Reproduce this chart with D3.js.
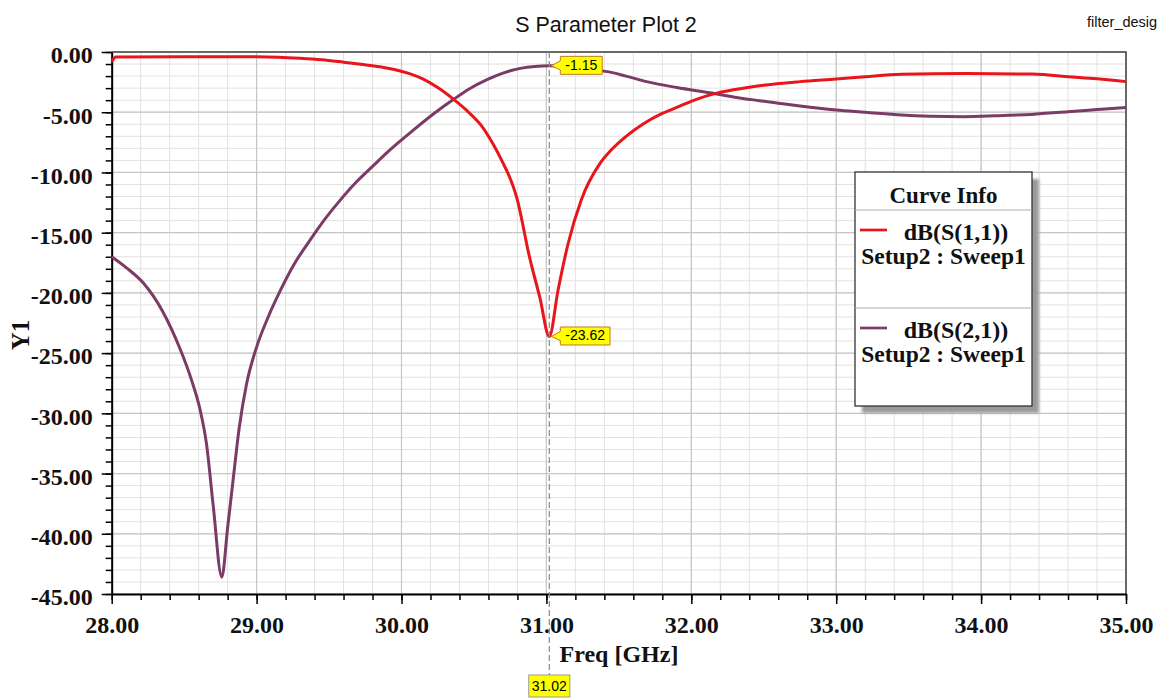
<!DOCTYPE html>
<html>
<head>
<meta charset="utf-8">
<script src="https://cdn.jsdelivr.net/npm/d3@7"></script>
<style>
  body { margin: 0; background: #fff; }
  svg { display: block; }
  .serif { font-family: "Liberation Serif", "Times New Roman", serif; font-weight: bold; }
  .sans { font-family: "Liberation Sans", Arial, sans-serif; }
</style>
</head>
<body>
<svg id="chart" width="1159" height="698"></svg>
<script>
// curve data (freq in GHz, value in dB)
const s11Freq = [28.00, 28.03, 28.50, 29.00, 29.15, 29.30, 29.45, 29.60, 29.72, 29.85, 29.95, 30.05, 30.15,
  30.25, 30.36, 30.45, 30.55, 30.63, 30.70, 30.75, 30.80, 30.835, 30.87, 30.955, 31.02, 31.08, 31.15, 31.24,
  31.37, 31.45, 31.55, 31.67, 31.80, 31.92, 32.03, 32.15, 32.30, 32.47, 32.75, 33.00, 33.20, 33.45, 33.90,
  34.35, 34.65, 34.82, 35.00];
const s11Db = [-0.80, -0.42, -0.40, -0.40, -0.43, -0.52, -0.65, -0.85, -1.02, -1.22, -1.45, -1.78, -2.25,
  -2.95, -3.93, -4.85, -6.10, -7.60, -9.20, -10.5, -12.3, -14.2, -16.3, -20.4, -23.62, -19.8, -15.9, -12.3,
  -9.25, -8.10, -7.00, -5.95, -5.10, -4.50, -3.95, -3.50, -3.12, -2.80, -2.46, -2.24, -2.05, -1.85, -1.78,
  -1.83, -2.10, -2.24, -2.46];

const s21Freq = [28.00, 28.10, 28.22, 28.35, 28.47, 28.55, 28.61, 28.655, 28.70, 28.76, 28.80, 28.84, 28.88,
  28.93, 29.00, 29.08, 29.16, 29.26, 29.37, 29.47, 29.57, 29.68, 29.80, 29.90, 29.99, 30.08, 30.22, 30.36,
  30.47, 30.59, 30.70, 30.82, 30.92, 31.02, 31.12, 31.20, 31.30, 31.42, 31.55, 31.69, 31.90, 32.15, 32.30,
  32.47, 32.60, 32.75, 33.00, 33.20, 33.45, 33.65, 33.88, 34.10, 34.35, 34.60, 34.80, 35.00];
const s21Db = [-17.0, -17.9, -19.2, -21.5, -24.6, -27.2, -29.7, -32.6, -37.6, -43.6, -39.5, -35.3, -31.2,
  -27.6, -24.5, -22.0, -19.9, -17.6, -15.6, -13.9, -12.4, -10.9, -9.5, -8.35, -7.4, -6.5, -5.15, -3.93,
  -3.05, -2.30, -1.75, -1.36, -1.20, -1.15, -1.20, -1.30, -1.45, -1.63, -2.00, -2.46, -2.95, -3.43, -3.75,
  -4.04, -4.25, -4.49, -4.82, -5.00, -5.23, -5.33, -5.37, -5.30, -5.18, -4.96, -4.78, -4.60];

const freqTicks = [28, 29, 30, 31, 32, 33, 34, 35];
const dbTicks = [0, -5, -10, -15, -20, -25, -30, -35, -40, -45];

const seriesNames = ['dB(S(1,1))', 'dB(S(2,1))'];
const seriesColors = ['#e8151b', '#7b3b66'];
const setupName = 'Setup2 : Sweep1';

const markerFreq = 31.02;
const markerS11 = -23.62;
const markerS21 = -1.15;

// frame
const MARGINS = {left: 111.7, right: 1126, top: 52, bottom: 594};

const svg = d3.select('#chart');

const x = d3.scaleLinear().domain([28, 35]).range([MARGINS.left, MARGINS.right]);
const y = d3.scaleLinear().domain([-45, 0]).range([MARGINS.bottom, MARGINS.top]);

const minorFreq = d3.range(28, 35.001, 0.2);
const minorDb = d3.range(-45, 0.001, 1);
const fmt = (d) => d.toFixed(2);

// grid lines
svg.append('g')
  .selectAll('line')
  .data(minorFreq)
  .enter().append('line')
    .attr('x1', (d) => x(d)).attr('x2', (d) => x(d))
    .attr('y1', MARGINS.top).attr('y2', MARGINS.bottom)
    .attr('stroke', '#e2e2e2').attr('stroke-width', 1);

svg.append('g')
  .selectAll('line')
  .data(minorDb)
  .enter().append('line')
    .attr('x1', MARGINS.left).attr('x2', MARGINS.right)
    .attr('y1', (d) => y(d)).attr('y2', (d) => y(d))
    .attr('stroke', '#e2e2e2').attr('stroke-width', 1);

svg.append('g')
  .selectAll('line')
  .data(freqTicks)
  .enter().append('line')
    .attr('x1', (d) => x(d)).attr('x2', (d) => x(d))
    .attr('y1', MARGINS.top).attr('y2', MARGINS.bottom)
    .attr('stroke', '#c6c6c6').attr('stroke-width', 1.2);

svg.append('g')
  .selectAll('line')
  .data(dbTicks)
  .enter().append('line')
    .attr('x1', MARGINS.left).attr('x2', MARGINS.right)
    .attr('y1', (d) => y(d)).attr('y2', (d) => y(d))
    .attr('stroke', '#c6c6c6').attr('stroke-width', 1.2);

// top and right border
svg.append('path')
  .attr('d', 'M' + MARGINS.left + ',' + MARGINS.top + 'H' + MARGINS.right + 'V' + MARGINS.bottom)
  .attr('fill', 'none').attr('stroke', '#444').attr('stroke-width', 1.5);

// minor ticks
svg.append('g')
  .attr('transform', 'translate(0,' + MARGINS.bottom + ')')
  .call(d3.axisBottom(x).tickValues(minorFreq).tickSize(6).tickFormat(''))
  .call((g) => g.select('.domain').remove())
  .selectAll('line').attr('stroke', '#000').attr('stroke-width', 1.5);

svg.append('g')
  .attr('transform', 'translate(' + MARGINS.left + ',0)')
  .call(d3.axisLeft(y).tickValues(minorDb).tickSize(6).tickFormat(''))
  .call((g) => g.select('.domain').remove())
  .selectAll('line').attr('stroke', '#000').attr('stroke-width', 1.5);

// major axes
const xAxis = svg.append('g')
  .attr('transform', 'translate(0,' + MARGINS.bottom + ')')
  .call(d3.axisBottom(x).tickValues(freqTicks).tickSize(10).tickSizeOuter(0).tickPadding(12).tickFormat(fmt));

const yAxis = svg.append('g')
  .attr('transform', 'translate(' + MARGINS.left + ',0)')
  .call(d3.axisLeft(y).tickValues(dbTicks).tickSize(10).tickSizeOuter(0).tickPadding(9).tickFormat(fmt));

[xAxis, yAxis].forEach((g) => {
  g.select('.domain').attr('stroke', '#000').attr('stroke-width', 2);
  g.selectAll('line').attr('stroke', '#000').attr('stroke-width', 1.5);
  g.selectAll('text')
    .attr('class', 'serif')
    .attr('font-size', '24px')
    .attr('fill', '#111');
});
yAxis.selectAll('text').attr('dy', '0.45em');

// axis titles
svg.append('text')
  .attr('class', 'serif')
  .attr('x', 619).attr('y', 662)
  .attr('text-anchor', 'middle')
  .attr('font-size', '24px')
  .attr('fill', '#111')
  .text('Freq [GHz]');

svg.append('text')
  .attr('class', 'serif')
  .attr('transform', 'translate(29,335) rotate(-90)')
  .attr('text-anchor', 'middle')
  .attr('font-size', '25px')
  .attr('fill', '#111')
  .text('Y1');

// title and project name
svg.append('text')
  .attr('class', 'sans')
  .attr('x', 606).attr('y', 32)
  .attr('text-anchor', 'middle')
  .attr('font-size', '21.5px')
  .attr('fill', '#111')
  .text('S Parameter Plot 2');

svg.append('text')
  .attr('class', 'sans')
  .attr('x', 1087).attr('y', 27)
  .attr('font-size', '14.5px')
  .attr('fill', '#111')
  .text('filter_desig');

// curves
const line = d3.line()
  .x((d) => x(d[0]))
  .y((d) => y(d[1]))
  .curve(d3.curveMonotoneX);

const series = [
  d3.zip(s21Freq, s21Db),
  d3.zip(s11Freq, s11Db)
];
const seriesColorOrder = [seriesColors[1], seriesColors[0]];

svg.append('g')
  .selectAll('path')
  .data(series)
  .enter().append('path')
    .attr('d', line)
    .attr('fill', 'none')
    .attr('stroke', (d, i) => seriesColorOrder[i])
    .attr('stroke-width', 3)
    .attr('stroke-linejoin', 'round');

// marker line
const mx = x(markerFreq);
svg.append('line')
  .attr('x1', mx).attr('x2', mx)
  .attr('y1', MARGINS.top).attr('y2', 675)
  .attr('stroke', '#8a8a8a').attr('stroke-width', 1.2)
  .attr('stroke-dasharray', '6,3');

// marker value tags
function markerTag(value) {
  const tipX = mx + 2;
  const tipY = y(value);
  const g = svg.append('g');
  const t = g.append('text')
    .attr('class', 'sans')
    .attr('font-size', '14px')
    .attr('fill', '#000')
    .attr('y', tipY + 4)
    .text(fmt(value));
  const left = tipX + 9;
  const w = t.node().getComputedTextLength() + 10;
  const top = tipY - 9.5, bot = tipY + 8.5;
  g.insert('path', 'text')
    .attr('d', 'M' + tipX + ',' + tipY + 'L' + left + ',' + (tipY - 5) + 'V' + top + 'H' + (left + w) +
      'V' + bot + 'H' + left + 'V' + (tipY + 4) + 'Z')
    .attr('fill', '#ffff00')
    .attr('stroke', '#c07a20')
    .attr('stroke-width', 1);
  t.attr('x', left + 5);
}
markerTag(markerS21);
markerTag(markerS11);

// frequency tag under the axis
const ft = svg.append('g');
const ftText = ft.append('text')
  .attr('class', 'sans')
  .attr('font-size', '14px')
  .attr('fill', '#000')
  .attr('text-anchor', 'middle')
  .attr('x', mx).attr('y', 691)
  .text(fmt(markerFreq));
const fw = ftText.node().getComputedTextLength() + 6;
ft.insert('rect', 'text')
  .attr('x', mx - fw / 2).attr('y', 675)
  .attr('width', fw).attr('height', 22)
  .attr('fill', '#ffff00')
  .attr('stroke', '#999').attr('stroke-width', 1);

// legend
const LEG = {x: 855, y: 172, w: 177, h: 234};
const defs = svg.append('defs');
defs.append('filter').attr('id', 'blur')
  .append('feGaussianBlur').attr('stdDeviation', 1.5);

svg.append('rect')
  .attr('x', LEG.x + 7).attr('y', LEG.y + 7)
  .attr('width', LEG.w).attr('height', LEG.h)
  .attr('fill', '#9a9a9a')
  .attr('filter', 'url(#blur)');

svg.append('rect')
  .attr('x', LEG.x).attr('y', LEG.y)
  .attr('width', LEG.w).attr('height', LEG.h)
  .attr('fill', '#fff')
  .attr('stroke', '#333').attr('stroke-width', 1.3);

svg.append('text')
  .attr('class', 'serif')
  .attr('x', LEG.x + LEG.w / 2).attr('y', 203)
  .attr('text-anchor', 'middle')
  .attr('font-size', '23px')
  .attr('fill', '#111')
  .text('Curve Info');

const rowTops = [210, 308];
svg.append('g')
  .selectAll('line')
  .data(rowTops)
  .enter().append('line')
    .attr('x1', LEG.x).attr('x2', LEG.x + LEG.w)
    .attr('y1', (d) => d).attr('y2', (d) => d)
    .attr('stroke', '#aaa').attr('stroke-width', 1);

const rows = svg.append('g')
  .selectAll('g')
  .data(seriesNames)
  .enter().append('g')
    .attr('transform', (d, i) => 'translate(0,' + rowTops[i] + ')');

rows.append('line')
  .attr('x1', 860).attr('x2', 887)
  .attr('y1', 20).attr('y2', 20)
  .attr('stroke', (d, i) => seriesColors[i])
  .attr('stroke-width', 2.7);

rows.append('text')
  .attr('class', 'serif')
  .attr('x', 956).attr('y', 30)
  .attr('text-anchor', 'middle')
  .attr('font-size', '24px')
  .attr('fill', '#111')
  .text((d) => d);

rows.append('text')
  .attr('class', 'serif')
  .attr('x', LEG.x + LEG.w / 2).attr('y', 54)
  .attr('text-anchor', 'middle')
  .attr('font-size', '23.5px')
  .attr('fill', '#111')
  .text(setupName);
</script>
</body>
</html>
